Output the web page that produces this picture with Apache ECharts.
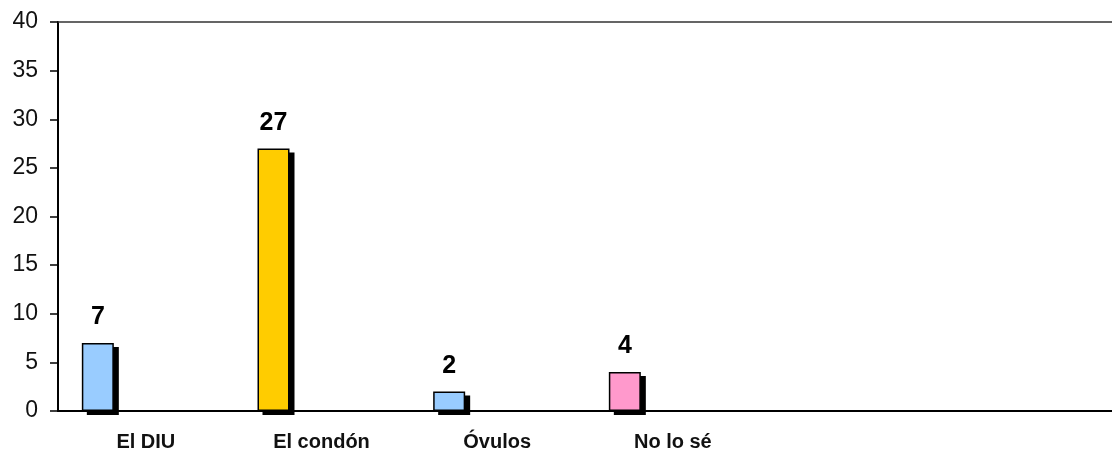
<!DOCTYPE html>
<html>
<head>
<meta charset="utf-8">
<script src="https://cdn.jsdelivr.net/npm/echarts@6/dist/echarts.min.js"></script>
<style>
  html, body { margin: 0; padding: 0; background: #fff; }
  #chart { width: 1112px; height: 453px; }
</style>
</head>
<body>
<div id="chart"></div>
<script>
// Métodos anticonceptivos conocidos (frecuencias)
const categories = ['El DIU', 'El condón', 'Óvulos', 'No lo sé', '', ''];
const values = [7, 27, 2, 4, null, null];
const barColors = ['#99CCFF', '#FFCC00', '#99CCFF', '#FF99CC', '#99CCFF', '#99CCFF'];
const yTicks = { min: 0, max: 40, interval: 5 };

const FONT = '"Liberation Sans", Arial, sans-serif';
const BAR_W = 32;
const BAR_GAP_PX = 64;                     // gap to the (empty) second series
const BAR_SHIFT = -(BAR_W + BAR_GAP_PX) / 2; // centre of first bar within its band
const SHADOW_DX = 5, SHADOW_DY = 4;

const chart = echarts.init(document.getElementById('chart'), null, { renderer: 'canvas' });

const barData = values.map((v, i) => ({
  value: v,
  itemStyle: { color: barColors[i] }
}));

// drop shadow drawn behind each bar, positioned through the axis scales
function renderShadow(params, api) {
  const v = api.value(1);
  if (v == null || isNaN(v)) return null;
  const idx = api.value(0);
  const top = api.coord([idx, v]);
  const base = api.coord([idx, 0]);
  return {
    type: 'rect',
    shape: {
      x: top[0] + BAR_SHIFT - BAR_W / 2 + SHADOW_DX,
      y: top[1] + SHADOW_DY,
      width: BAR_W,
      height: base[1] - top[1]
    },
    style: { fill: '#000' }
  };
}

chart.setOption({
  animation: false,
  grid: { left: 58, right: 0, top: 22, bottom: 42, containLabel: false },
  xAxis: [{
    type: 'category',
    data: categories,
    axisLine: { show: true, lineStyle: { color: '#000', width: 2 } },
    axisTick: { show: false },
    axisLabel: {
      color: '#111',
      fontFamily: FONT,
      fontWeight: 'bold',
      fontSize: 20,
      margin: 21,
      interval: 0
    },
    splitLine: { show: false }
  }, {
    // top border line of the plot area
    type: 'category',
    position: 'top',
    data: categories,
    axisLine: { show: true, lineStyle: { color: '#333', width: 1.5 } },
    axisTick: { show: false },
    axisLabel: { show: false }
  }],
  yAxis: {
    type: 'value',
    min: yTicks.min,
    max: yTicks.max,
    interval: yTicks.interval,
    axisLine: { show: true, lineStyle: { color: '#000', width: 2 } },
    axisTick: { show: true, length: 8, lineStyle: { color: '#000', width: 1.5 } },
    axisLabel: {
      color: '#111',
      fontFamily: FONT,
      fontSize: 23,
      margin: 20
    },
    splitLine: { show: false }
  },
  series: [{
    type: 'custom',
    xAxisIndex: 0,
    z: 1,
    silent: true,
    renderItem: renderShadow,
    data: values.map((v, i) => [i, v])
  }, {
    type: 'bar',
    z: 3,
    data: barData,
    barWidth: BAR_W,
    barGap: (BAR_GAP_PX / BAR_W * 100) + '%',
    itemStyle: {
      borderColor: '#000',
      borderWidth: 1.5
    },
    label: {
      show: true,
      position: 'top',
      distance: 13,
      color: '#000',
      fontFamily: FONT,
      fontWeight: 'bold',
      fontSize: 25
    }
  }, {
    type: 'bar',
    z: 3,
    data: values.map(() => null),
    barWidth: BAR_W
  }]
});
</script>
</body>
</html>
